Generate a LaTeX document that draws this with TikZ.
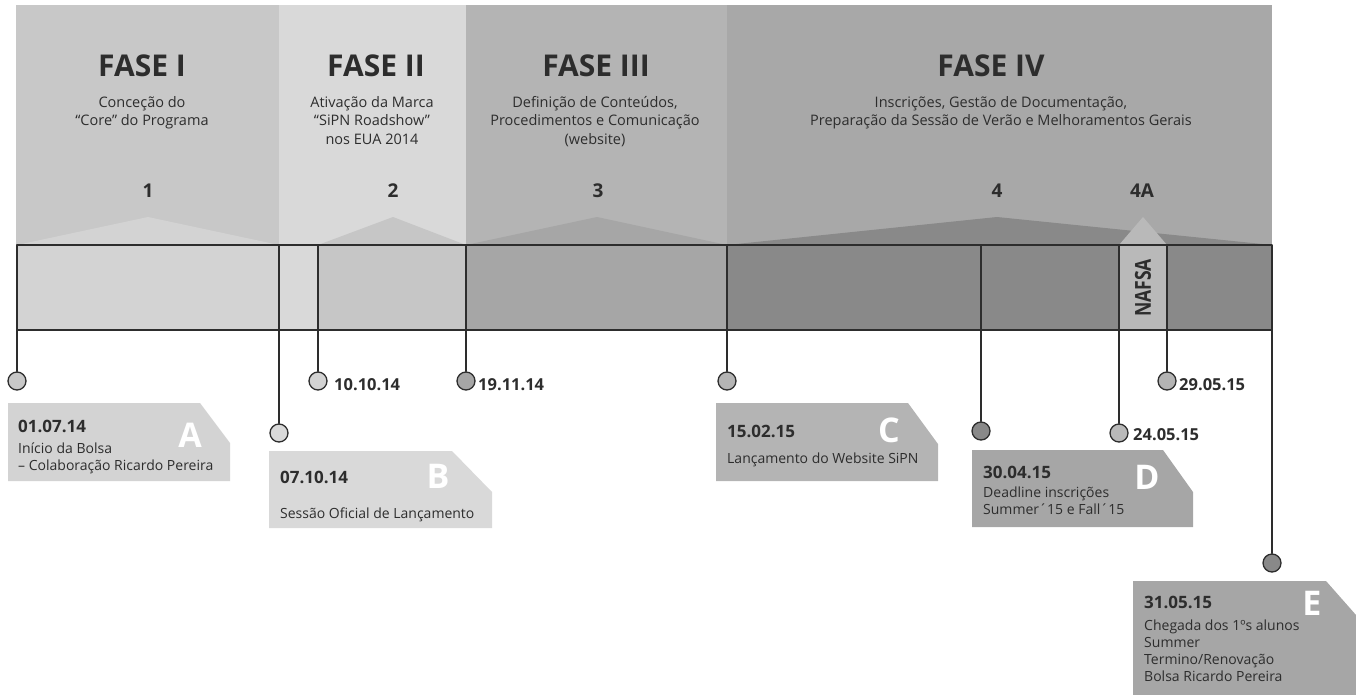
\documentclass[tikz,border=0pt]{standalone}
\usepackage{fontspec}
\setmainfont{Open Sans}
\definecolor{Hone}{RGB}{200,200,200}
\definecolor{Htwo}{RGB}{217,217,217}
\definecolor{Hthree}{RGB}{180,180,180}
\definecolor{Hfour}{RGB}{168,168,168}
\definecolor{Bone}{RGB}{211,211,211}
\definecolor{Btwo}{RGB}{198,198,198}
\definecolor{Bthree}{RGB}{166,166,166}
\definecolor{Bfour}{RGB}{137,137,137}
\definecolor{Bnafsa}{RGB}{185,185,185}
\definecolor{Ink}{RGB}{45,45,45}

\begin{document}
\begin{tikzpicture}[x=1pt,y=-1pt,line cap=round,line join=round,
  fasetitle/.style={font=\bfseries\fontsize{30}{31}\selectfont,text=Ink,anchor=base,inner sep=0pt},
  fasesub/.style={font=\fontsize{14.5}{18.5}\selectfont,text=Ink,align=center,anchor=north,inner sep=0pt},
  fasenum/.style={font=\bfseries\fontsize{19}{20}\selectfont,text=Ink,anchor=base,inner sep=0pt},
  pin/.style={circle,draw=Ink,line width=1.3pt,minimum size=18pt,inner sep=0pt},
  stem/.style={draw=Ink,line width=1.5pt},
  pindate/.style={font=\bfseries\fontsize{16.5}{18}\selectfont,text=Ink,anchor=base west,inner sep=0pt},
  calldate/.style={font=\bfseries\fontsize{17}{18}\selectfont,text=Ink,anchor=base west,inner sep=0pt},
  calltext/.style={font=\fontsize{14}{17}\selectfont,text=Ink,align=left,anchor=north west,inner sep=0pt},
  callkey/.style={font=\bfseries\fontsize{34}{34}\selectfont,text=white,anchor=base,inner sep=0pt}]
\path[use as bounding box] (0,0) rectangle (1356,695);
% phase panels
\fill[Hone] (16,5) rectangle (279,245);
\fill[Htwo] (279,5) rectangle (466,245);
\fill[Hthree] (466,5) rectangle (727,245);
\fill[Hfour] (727,5) rectangle (1272,245);
\fill[Bone] (17,245) -- (148,217) -- (279,245) -- cycle;
\fill[Btwo] (318,245) -- (393,217) -- (466,245) -- cycle;
\fill[Bthree] (466,245) -- (597,217) -- (727,245) -- cycle;
\fill[Bfour] (727,245) -- (997,217) -- (1272,245) -- cycle;
\fill[Bnafsa] (1119,245) -- (1143,217) -- (1167,245) -- cycle;
\node[fasetitle] (f1) at (142,77) {FASE I};
\node[fasetitle] (f2) at (376,77) {FASE II};
\node[fasetitle] (f3) at (596,77) {FASE III};
\node[fasetitle] (f4) at (991,77) {FASE IV};
\node[fasesub] (s1) at (142,96) {Conceção do\\“Core” do Programa};
\node[fasesub] (s2) at (372,96) {Ativação da Marca\\“SiPN Roadshow”\\nos EUA 2014};
\node[fasesub] (s3) at (595,96) {Definição de Conteúdos,\\Procedimentos e Comunicação\\(website)};
\node[fasesub] (s4) at (1001,96) {Inscrições, Gestão de Documentação,\\Preparação da Sessão de Verão e Melhoramentos Gerais};
\node[fasenum] (n1) at (148,197) {1};
\node[fasenum] (n2) at (393,197) {2};
\node[fasenum] (n3) at (598,197) {3};
\node[fasenum] (n4) at (997,197) {4};
\node[fasenum] (n4a) at (1142,197) {4A};
% time bar
\fill[Bone] (17,245) rectangle (279,330);
\fill[Htwo] (279,245) rectangle (318,330);
\fill[Btwo] (318,245) rectangle (466,330);
\fill[Bthree] (466,245) rectangle (727,330);
\fill[Bfour] (727,245) rectangle (1272,330);
\fill[Bnafsa] (1119,245) rectangle (1167,330);
\draw[stem] (17,245) rectangle (1272,330);
\draw[stem] (279,245) -- (279,330);
\draw[stem] (318,245) -- (318,330);
\draw[stem] (466,245) -- (466,330);
\draw[stem] (727,245) -- (727,330);
\draw[stem] (981,245) -- (981,330);
\draw[stem] (1119,245) -- (1119,330);
\draw[stem] (1167,245) -- (1167,330);
\node[rotate=90,font=\bfseries\fontsize{22}{22}\selectfont,text=Ink,inner sep=0pt] (nafsa) at (1143,288) {\scalebox{0.8}[1]{NAFSA}};
% pins
\coordinate (sA) at (17,330);
\coordinate (sB) at (279,330);
\coordinate (s1010) at (318,330);
\coordinate (s1911) at (466,330);
\coordinate (sC) at (727,330);
\coordinate (sD) at (981,330);
\coordinate (s2405) at (1119,330);
\coordinate (s2905) at (1167,330);
\coordinate (sE) at (1272,330);
\node[pin,fill=Hone] (pA) at (17,381) {};
\node[pin,fill=Htwo] (pB) at (279,433) {};
\node[pin,fill=Bone] (p1010) at (318,381) {};
\node[pin,fill=Bthree] (p1911) at (466,381) {};
\node[pin,fill=Hthree] (pC) at (727,381) {};
\node[pin,fill=Bfour] (pD) at (981,431) {};
\node[pin,fill=Bnafsa] (p2405) at (1119,433) {};
\node[pin,fill=Hthree] (p2905) at (1167,381) {};
\node[pin,fill=Bfour] (pE) at (1272,563) {};
\draw[stem] (sA) -- (pA);
\draw[stem] (sB) -- (pB);
\draw[stem] (s1010) -- (p1010);
\draw[stem] (s1911) -- (p1911);
\draw[stem] (sC) -- (pC);
\draw[stem] (sD) -- (pD);
\draw[stem] (s2405) -- (p2405);
\draw[stem] (s2905) -- (p2905);
\draw[stem] (sE) -- (pE);
\node[pindate] (d1010) at (334,390) {10.10.14};
\node[pindate] (d1911) at (478,390) {19.11.14};
\node[pindate] (d2405) at (1133,440) {24.05.15};
\node[pindate] (d2905) at (1179,390) {29.05.15};
% callouts
\fill[Bone] (8,403) -- (200,403) -- (230,443) -- (230,481) -- (8,481) -- cycle;
\node[calldate] (cA) at (18,432) {01.07.14};
\node[callkey] (kA) at (190,447) {A};
\node[calltext] (tA) at (18,443) {Início da Bolsa\\– Colaboração Ricardo Pereira};
\fill[Htwo] (269,451) -- (452,451) -- (492,492) -- (492,528) -- (269,528) -- cycle;
\node[calldate] (cB) at (280,483) {07.10.14};
\node[callkey] (kB) at (438,488) {B};
\node[calltext] (tB) at (280,508) {Sessão Oficial de Lançamento};
\fill[Hthree] (716,403) -- (908,403) -- (938,444) -- (938,481) -- (716,481) -- cycle;
\node[calldate] (cC) at (727,437) {15.02.15};
\node[callkey] (kC) at (889,442) {C};
\node[calltext] (tC) at (727,453) {Lançamento do Website SiPN};
\fill[Bthree] (972,450) -- (1163,450) -- (1193,492) -- (1193,527) -- (972,527) -- cycle;
\node[calldate] (cD) at (983,478) {30.04.15};
\node[callkey] (kD) at (1147,489) {D};
\node[calltext] (tD) at (983,487) {Deadline inscrições\\Summer´15 e Fall´15};
\fill[Bthree] (1133,581) -- (1326,581) -- (1356,615) -- (1356,695) -- (1133,695) -- cycle;
\node[calldate] (cE) at (1144,608) {31.05.15};
\node[callkey] (kE) at (1312,615) {E};
\node[calltext] (tE) at (1144,620) {Chegada dos 1ºs alunos\\Summer\\Termino/Renovação\\Bolsa Ricardo Pereira};
\end{tikzpicture}
\end{document}
